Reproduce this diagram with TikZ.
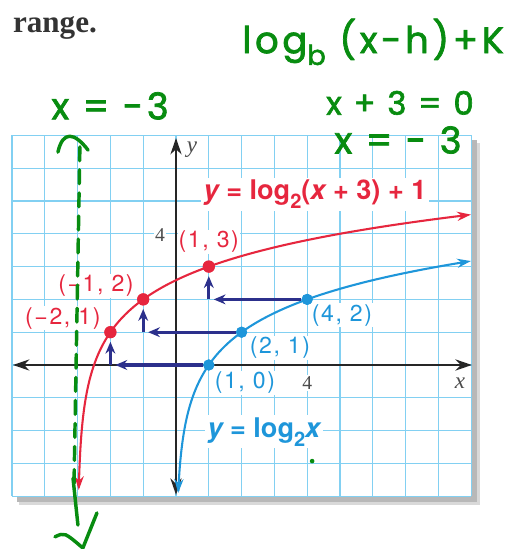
\documentclass[tikz,border=0pt]{standalone}
\usepackage{graphicx}
\usepackage{fontspec}
\setmainfont{Liberation Serif}
\newfontfamily\hv{TeX Gyre Heros}
\newfontfamily\hvsp[LetterSpace=7]{TeX Gyre Heros}
\newfontfamily\hand[LetterSpace=10,FakeBold=2]{Poppins}
\usetikzlibrary{arrows.meta}
\definecolor{gridblue}{RGB}{130,208,242}
\definecolor{fred}{RGB}{230,38,62}
\definecolor{fblue}{RGB}{30,150,218}
\definecolor{navy}{RGB}{44,48,140}
\definecolor{pen}{RGB}{8,140,16}
\newcommand\lowsub[1]{\raisebox{-0.32em}{\scalebox{0.74}{#1}}}
\tikzset{
  gridln/.style={gridblue, line width=1.1pt},
  ax/.style={black!85, line width=2pt, {Stealth[length=5mm,width=3.4mm]}-{Stealth[length=5mm,width=3.4mm]}},
  rcurve/.style={fred, line width=1.8pt, {Stealth[length=4.2mm,width=2.8mm]}-{Stealth[length=4.2mm,width=2.8mm]}},
  bcurve/.style={fblue, line width=1.8pt, {Stealth[length=4.2mm,width=2.8mm]}-{Stealth[length=4.2mm,width=2.8mm]}},
  rdot/.style={circle, fill=fred, inner sep=0pt, minimum size=3.7mm},
  bdot/.style={circle, fill=fblue, inner sep=0pt, minimum size=3.4mm},
  mv/.style={navy, line width=2.4pt, -{Stealth[length=3.6mm,width=3mm]}, shorten >=1.5mm},
  mvup/.style={navy, line width=2.4pt, -{Stealth[length=3.6mm,width=3mm]}, shorten >=1mm},
  clbl/.style={font=\hvsp\fontsize{20}{20}\selectfont, fill=white, inner sep=1pt},
  flbl/.style={font=\hv\bfseries\fontsize{23.5}{23.5}\selectfont, fill=white, inner sep=2pt},
  tk/.style={font=\fontsize{17}{17}\selectfont, text=black!70, fill=white, inner sep=1pt},
  axl/.style={font=\itshape\fontsize{20}{20}\selectfont, text=black!70},
  ink/.style={pen, line width=3pt, line cap=round, line join=round},
  inktxt/.style={font=\hand\fontsize{32}{32}\selectfont, text=pen},
}
\begin{document}
\begin{tikzpicture}
\useasboundingbox (-5.366,-5.61) rectangle (10.274,11.128);
% page text
\node[font=\bfseries\fontsize{27}{27}\selectfont, text=black!80] (rng) at (-3.69,10.27) {range.};
% shadow and grid
\fill[black!15] (-4.78,-4.27) rectangle (9.27,6.78);
\fill[black!28] (-4.85,-4.17) rectangle (9.17,6.85);
\fill[white] (-5,-4) rectangle (9,7);
\draw[gridln] (-5,-4) grid (9,7);
% axes
\draw[ax] (-4.97,0) -- (9.02,0);
\draw[ax] (0,-3.96) -- (0,6.92);
\node[axl] (xl) at (8.66,-0.55) {x};
\node[axl] (yl) at (0.49,6.55) {y};
\node[tk] (t4y) at (-0.49,3.96) {4};
\node[tk] (t4x) at (4.0,-0.55) {4};
% curves
\draw[bcurve] plot[variable=\t, domain=-3.9:3.17, samples=120, smooth] ({pow(2,\t)},\t);
\draw[rcurve] plot[variable=\t, domain=-3.81:4.585, samples=120, smooth] ({pow(2,\t-1)-3},\t);
% points
\node[bdot] (b1) at (1,0) {};
\node[bdot] (b2) at (2,1) {};
\node[bdot] (b3) at (4,2) {};
\node[rdot] (r1) at (-2,1) {};
\node[rdot] (r2) at (-1,2) {};
\node[rdot] (r3) at (1,3) {};
\coordinate (k1) at (-2,0);
\coordinate (k2) at (-1,1);
\coordinate (k3) at (1,2);
% shifts
\draw[mv, line width=2.9pt] (b1) -- (k1);
\draw[mv] (b2) -- (k2);
\draw[mv] (b3) -- (k3);
\draw[mvup] (k1) -- (r1);
\draw[mvup] (k2) -- (r2);
\draw[mvup] (k3) -- (r3);
\node[bdot] at (1,0) {};
\node[bdot] at (2,1) {};
\node[bdot] at (4,2) {};
\node[rdot] at (-2,1) {};
\node[rdot] at (-1,2) {};
\node[rdot] at (1,3) {};
% labels
\node[clbl, text=fred] (l3) at (1.0,3.75) {(1, 3)};
\node[clbl, text=fred] (l2) at (-2.44,2.41) {(−1, 2)};
\node[clbl, text=fred] (l1) at (-3.45,1.43) {(−2, 1)};
\node[clbl, text=fblue] (m3) at (5.06,1.52) {(4, 2)};
\node[clbl, text=fblue] (m2) at (3.17,0.52) {(2, 1)};
\node[clbl, text=fblue] (m1) at (2.1,-0.55) {(1, 0)};
\node[flbl, text=fred] (fr) at (4.24,5.21)
  {{\itshape y} = log\lowsub{2}({\itshape x} + 3) + 1};
\node[flbl, text=fblue] (fb) at (2.68,-2.04) {{\itshape y} = log\lowsub{2}{\itshape x}};
% handwriting
\node[inktxt] (hw1) at (6.01,9.85) {log\lowsub{b} (x-h)+K};
\node[inktxt] (hw2) at (-2.01,7.90) {x = -3};
\node[inktxt, font=\hand\fontsize{28}{28}\selectfont] (hw3) at (6.83,7.99) {x + 3 = 0};
\node[inktxt] (hw4) at (6.77,6.86) {x = - 3};
\draw[ink, dash pattern=on 12pt off 8pt] (-2.93,6.65) -- (-3.11,-3.66);
\draw[ink] (-3.60,6.49) .. controls (-3.45,7.15) and (-3.1,7.1) .. (-2.68,6.55);
\draw[ink] (-3.14,-3.45) -- (-2.99,-4.88);
\draw[ink] (-3.69,-5.24) .. controls (-3.4,-5.1) .. (-2.84,-5.58) -- (-2.41,-4.51);
\fill[pen] (4.15,-2.93) circle (0.07);
\end{tikzpicture}
\end{document}
